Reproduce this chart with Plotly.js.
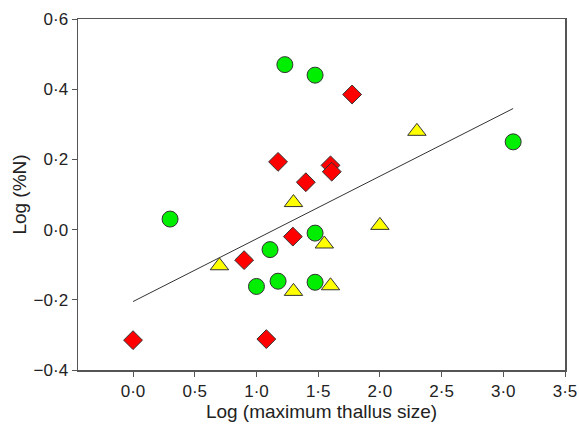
<!DOCTYPE html>
<html>
<head>
<meta charset="utf-8">
<script src="https://cdn.plot.ly/plotly-3.0.1.min.js"></script>
<style>html,body{margin:0;padding:0;background:#fff;}#chart{width:579px;height:425px;}</style>
</head>
<body>
<div id="chart"></div>
<script>
var circleX = [1.23, 1.475, 3.08, 0.30, 1.11, 1.475, 1.00, 1.175, 1.475];
var circleY = [0.47, 0.44, 0.25, 0.03, -0.057, -0.01, -0.162, -0.147, -0.150];

var diamondX = [1.775, 1.175, 1.60, 1.61, 1.40, 1.295, 0.90, 0.00, 1.08];
var diamondY = [0.385, 0.193, 0.183, 0.165, 0.135, -0.02, -0.087, -0.315, -0.312];

var triangleX = [2.30, 1.30, 0.70, 2.00, 1.55, 1.30, 1.60];
var triangleY = [0.28, 0.077, -0.103, 0.012, -0.041, -0.176, -0.16];

var fitX = [0.0, 3.08];
var fitY = [-0.205, 0.345];

var xTickVals = [0, 0.5, 1, 1.5, 2, 2.5, 3, 3.5];
var xTickText = ['0·0', '0·5', '1·0', '1·5', '2·0', '2·5', '3·0', '3·5'];
var yTickVals = [-0.4, -0.2, 0, 0.2, 0.4, 0.6];
var yTickText = ['−0·4', '−0·2', '0·0', '0·2', '0·4', '0·6'];

var outline = {color: '#333333', width: 1};

var traces = [
  {x: fitX, y: fitY, mode: 'lines', type: 'scatter',
   line: {color: '#333333', width: 1}, hoverinfo: 'skip'},
  {x: diamondX, y: diamondY, mode: 'markers', type: 'scatter',
   marker: {symbol: 'diamond', size: 14.5, color: '#ff0000', line: outline}},
  {x: circleX, y: circleY, mode: 'markers', type: 'scatter',
   marker: {symbol: 'circle', size: 16, color: '#00ee00', line: outline}},
  {x: triangleX, y: triangleY, mode: 'markers', type: 'scatter',
   marker: {symbol: 'triangle-up', size: 16, color: '#ffff00', line: outline}}
];

var axisCommon = {
  showgrid: false, zeroline: false,
  showline: true, linecolor: '#555555', linewidth: 1.5, mirror: true,
  ticks: 'outside', ticklen: 5, tickwidth: 1, tickcolor: '#555555',
  tickfont: {family: 'Liberation Sans, Arial, sans-serif', size: 17, color: '#222222'}
};

var layout = {
  width: 579, height: 425,
  margin: {l: 78, r: 14, t: 19, b: 55},
  paper_bgcolor: '#ffffff', plot_bgcolor: '#ffffff',
  showlegend: false,
  font: {family: 'Liberation Sans, Arial, sans-serif', color: '#222222'},
  xaxis: Object.assign({}, axisCommon, {
    range: [-0.446, 3.5], tickmode: 'array', tickvals: xTickVals, ticktext: xTickText,
    title: {text: 'Log (maximum thallus size)', font: {size: 19, color: '#222222'}, standoff: 4}
  }),
  yaxis: Object.assign({}, axisCommon, {
    range: [-0.4, 0.6], tickmode: 'array', tickvals: yTickVals, ticktext: yTickText,
    title: {text: 'Log (%N)', font: {size: 19, color: '#222222'}, standoff: 2}
  })
};

Plotly.newPlot('chart', traces, layout, {displayModeBar: false, staticPlot: true});
</script>
</body>
</html>
